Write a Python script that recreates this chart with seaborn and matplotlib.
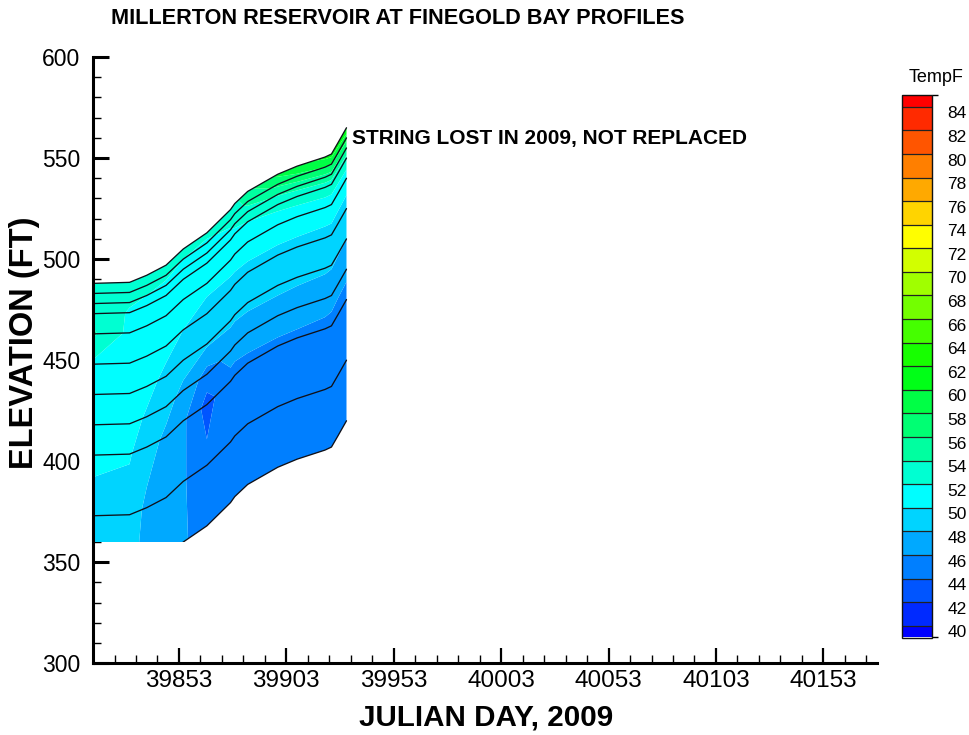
import matplotlib
matplotlib.use("Agg")
import matplotlib.pyplot as plt
import numpy as np
import pandas as pd
import seaborn as sns
from matplotlib.colors import LinearSegmentedColormap, ListedColormap, BoundaryNorm
from matplotlib.patches import Rectangle
from matplotlib.ticker import MultipleLocator, FixedLocator
from matplotlib.transforms import ScaledTranslation
import matplotlib.cm as cm

# --- data ---
days = [39813, 39830, 39838, 39847, 39855, 39866, 39877, 39879,
        39885, 39899, 39908, 39921, 39924, 39927, 39931]
surface_ft = [488.0, 488.5, 492.0, 497.0, 505.0, 513.0, 524.5, 527.5,
              533.5, 542.0, 546.0, 550.5, 552.0, 557.5, 565.0]
sensor_depth_ft = [0, 5, 10, 15, 25, 40, 55, 70, 85, 115, 145]
bottom_limit_ft = 360

# temperature (F) per day (rows) and sensor depth (columns)
temp_f = [
    [52.8, 52.7, 52.6, 53.5, 54.3, 51.6, 51.2, 51.0, 50.4, 49.3, 49.0],
    [52.7, 52.5, 52.2, 51.8, 51.5, 51.3, 51.0, 50.6, 50.2, 49.0, 48.5],
    [52.6, 52.3, 52.0, 51.6, 51.3, 51.0, 50.5, 49.8, 48.8, 47.6, 47.3],
    [52.5, 52.2, 51.8, 51.4, 51.0, 50.5, 49.6, 48.6, 47.6, 46.5, 46.5],
    [52.4, 52.0, 51.6, 51.2, 50.7, 50.0, 49.0, 47.5, 46.4, 46.2, 46.3],
    [52.3, 51.8, 51.4, 51.0, 50.4, 49.5, 48.3, 45.2, 43.2, 44.6, 44.8],
    [52.8, 52.4, 51.9, 51.4, 50.6, 49.5, 48.4, 46.6, 45.5, 45.0, 45.0],
    [53.5, 53.0, 52.3, 51.6, 50.7, 49.5, 48.4, 46.6, 45.5, 45.0, 45.0],
    [55.5, 54.5, 53.3, 52.0, 50.9, 49.5, 48.5, 46.8, 45.6, 45.0, 45.0],
    [58.5, 56.5, 54.2, 52.5, 51.0, 49.5, 48.5, 47.0, 45.6, 45.0, 45.0],
    [59.5, 57.5, 54.8, 52.8, 51.0, 49.5, 48.4, 47.0, 45.6, 45.0, 45.0],
    [60.5, 58.0, 55.2, 53.0, 51.0, 49.4, 48.3, 46.8, 45.5, 45.0, 45.0],
    [60.8, 58.2, 55.3, 53.0, 51.0, 49.4, 48.2, 46.7, 45.4, 45.0, 45.0],
    [61.0, 58.5, 55.5, 53.1, 51.0, 49.3, 48.1, 46.6, 45.3, 45.0, 45.0],
    [61.5, 59.0, 56.0, 53.3, 51.0, 49.2, 48.0, 46.5, 45.3, 45.0, 45.0],
]

temp_levels = [39] + list(range(40, 86, 2)) + [85]
temp_ticks = list(range(40, 86, 2))
x_major = [39853, 39903, 39953, 40003, 40053, 40103, 40153]

# --- style ---
sns.set_theme(style="white")
plt.rcParams["font.family"] = ["Liberation Sans", "DejaVu Sans"]
for k in ["text.color", "axes.labelcolor", "xtick.color", "ytick.color", "axes.edgecolor"]:
    plt.rcParams[k] = "black"

rainbow = LinearSegmentedColormap.from_list(
    "tec", [(0, "#0000ff"), (0.26, "#00ffff"), (0.5, "#00ff00"), (0.74, "#ffff00"), (1, "#ff0000")])
band_colors = rainbow(np.linspace(0, 1, len(temp_levels) - 1))

fig = plt.figure(figsize=(9.7, 7.35), dpi=100)
ax = fig.add_axes([0.0959, 0.0976, 0.8083, 0.8248])

d = np.array(days, dtype=float)
s = np.array(surface_ft)
z = np.array(sensor_depth_ft, dtype=float)
X = np.repeat(d[:, None], len(z), axis=1)
Y = s[:, None] - z[None, :]
Z = np.array(temp_f)

clip = Rectangle((39800, bottom_limit_ft), 500, 400, transform=ax.transData)

cs = ax.contourf(X, Y, Z, levels=temp_levels, colors=band_colors, antialiased=True)
cs.set_clip_path(clip)

# sensor lines
df = pd.DataFrame({
    "day": np.repeat(d, len(z)),
    "elev": Y.ravel(),
    "depth": np.tile(z, len(d)),
})
sns.lineplot(data=df, x="day", y="elev", units="depth", estimator=None,
             color="#101018", linewidth=0.95, legend=False, ax=ax)
for ln in ax.lines:
    ln.set_clip_path(clip)

ax.set_xlim(39813, 40178)
ax.set_ylim(300, 600)
ax.xaxis.set_major_locator(FixedLocator(x_major))
ax.xaxis.set_minor_locator(MultipleLocator(10, offset=3))
ax.yaxis.set_major_locator(MultipleLocator(50))
ax.yaxis.set_minor_locator(MultipleLocator(10))
ax.set_xlabel("")
ax.set_ylabel("")

for side in ["top", "right"]:
    ax.spines[side].set_visible(False)
for side in ["left", "bottom"]:
    ax.spines[side].set_linewidth(2.2)
    ax.spines[side].set_color("black")

ax.tick_params(axis="x", which="major", direction="in", length=11, width=1.6,
               labelsize=17.5, pad=5, bottom=True)
ax.tick_params(axis="x", which="minor", direction="in", length=5.5, width=1, bottom=True)
ax.tick_params(axis="y", which="major", direction="in", length=11.5, width=2.2,
               labelsize=16.5, pad=9, left=True)
ax.tick_params(axis="y", which="minor", direction="in", length=5.5, width=1, left=True)

ax.text(39933.5, 559.5, "STRING LOST IN 2009, NOT REPLACED", fontsize=15,
        fontweight="bold", va="center", ha="left")

fig.text(111 / 970, 1 - 19 / 735, "MILLERTON RESERVOIR AT FINEGOLD BAY PROFILES",
         fontsize=15.6, fontweight="bold", va="center", ha="left")
fig.text(486 / 970, 1 - 718 / 735, "JULIAN DAY, 2009", fontsize=21.3,
         fontweight="bold", va="center", ha="center")
fig.text(25 / 970, 1 - 343 / 735, "ELEVATION (FT)", fontsize=23.5,
         fontweight="bold", va="center", ha="center", rotation=90)

# legend bar
cax = fig.add_axes([902 / 970, 1 - 637.5 / 735, 30 / 970, 542.5 / 735])
norm = BoundaryNorm(temp_levels, len(band_colors))
sm = cm.ScalarMappable(norm=norm, cmap=ListedColormap(band_colors))
cbar = fig.colorbar(sm, cax=cax, ticks=temp_ticks, spacing="proportional", drawedges=True)
cbar.outline.set_linewidth(1)
cbar.outline.set_edgecolor("#111111")
cbar.dividers.set_color("#222222")
cbar.dividers.set_linewidth(0.9)
cax.tick_params(length=0, labelsize=12.5, pad=11)
shift = ScaledTranslation(0, -4 / 72, fig.dpi_scale_trans)
for lab in cax.get_yticklabels():
    lab.set_transform(lab.get_transform() + shift)
fig.text(936 / 970, 1 - 78 / 735, "TempF", fontsize=13, va="center", ha="center")

fig.savefig("out.png", dpi=100)
